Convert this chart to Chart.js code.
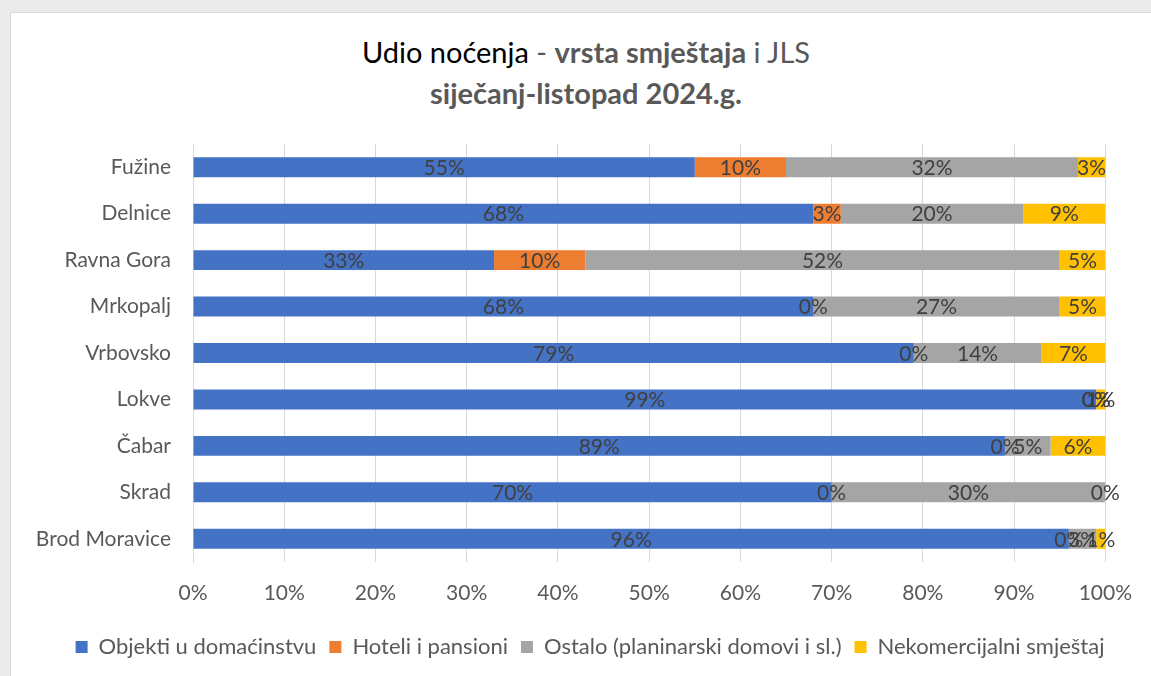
<!DOCTYPE html>
<html>
<head>
<meta charset="utf-8">
<script src="https://cdn.jsdelivr.net/npm/chart.js@4"></script>
<style>
    body { margin: 0; background: #ebebeb; font-family: Lato, "Open Sans", sans-serif; }
    #frame { position: absolute; left: 10px; top: 12px; width: 1150px; height: 680px; background: #fff; border: 1px solid #d9d9d9; }
    #title { position: absolute; left: 0; top: 31px; width: 1172px; text-align: center; color: #595959; font-size: 29px; line-height: 41px; }
    #title .dark { color: #000; }
    #wrap { position: absolute; left: 0; top: 0; width: 1151px; height: 676px; }
</style>
</head>
<body>
<div id="frame"></div>
<div id="title">
    <span class="dark">Udio noćenja</span> - <b>vrsta smještaja</b> i JLS<br>
    <b>siječanj-listopad 2024.g.</b>
</div>
<div id="wrap"><canvas id="barChart" width="1151" height="676"></canvas></div>
<script>
// kategorije (JLS)
const categories = ['Fužine', 'Delnice', 'Ravna Gora', 'Mrkopalj', 'Vrbovsko', 'Lokve', 'Čabar', 'Skrad', 'Brod Moravice'];

// udjeli u % po vrsti smještaja
const objektiDomacinstvo = [55, 68, 33, 68, 79, 99, 89, 70, 96];
const hoteliPansioni     = [10, 3, 10, 0, 0, 0, 0, 0, 0];
const ostalo             = [32, 20, 52, 27, 14, 0, 5, 30, 3];
const nekomercijalni     = [3, 9, 5, 5, 7, 1, 6, 0, 1];

const xTicks = [0, 10, 20, 30, 40, 50, 60, 70, 80, 90, 100];

// oznake vrijednosti u sredini svakog segmenta
const valueLabels = {
    id: 'valueLabels',
    afterDatasetsDraw(chart) {
        const ctx = chart.ctx;
        ctx.save();
        ctx.font = '21px Lato';
        ctx.fillStyle = '#404040';
        ctx.textAlign = 'center';
        ctx.textBaseline = 'middle';
        chart.data.datasets.forEach((ds, i) => {
            chart.getDatasetMeta(i).data.forEach((bar, j) => {
                const cx = (bar.x + bar.base) / 2;
                ctx.fillText(ds.data[j] + '%', cx, bar.y + 1);
            });
        });
        ctx.restore();
    }
};

// legenda malo udesno, kao u originalu
const shiftLegend = {
    id: 'shiftLegend',
    afterLayout(chart) {
        chart.legend.left += 37;
        chart.legend.right += 37;
    }
};

const ctx = document.getElementById('barChart').getContext('2d');
new Chart(ctx, {
    type: 'bar',
    data: {
        labels: categories,
        datasets: [
            { label: 'Objekti u domaćinstvu', data: objektiDomacinstvo, backgroundColor: '#4472C4' },
            { label: 'Hoteli i pansioni', data: hoteliPansioni, backgroundColor: '#ED7D31' },
            { label: 'Ostalo (planinarski domovi i sl.)', data: ostalo, backgroundColor: '#A5A5A5' },
            { label: 'Nekomercijalni smještaj', data: nekomercijalni, backgroundColor: '#FFC000' }
        ]
    },
    options: {
        indexAxis: 'y',
        responsive: false,
        animation: false,
        datasets: { bar: { categoryPercentage: 1, barPercentage: 0.43 } },
        layout: { padding: { top: 144, right: 45, bottom: 8, left: 0 } },
        plugins: {
            legend: {
                position: 'bottom',
                labels: {
                    font: { size: 22, family: 'Lato' },
                    color: '#595959',
                    boxWidth: 12,
                    boxHeight: 12,
                    padding: 13
                }
            },
            tooltip: { enabled: false }
        },
        scales: {
            x: {
                stacked: true,
                min: 0,
                max: 100,
                afterBuildTicks: s => { s.ticks = xTicks.map(v => ({ value: v })); },
                afterFit: s => { s.height = 61; },
                ticks: {
                    callback: v => v + '%',
                    font: { size: 21, family: 'Lato' },
                    color: '#595959',
                    padding: 19
                },
                grid: { color: '#d9d9d9', drawTicks: false },
                border: { display: false }
            },
            y: {
                stacked: true,
                afterFit: s => { s.width = 193; },
                ticks: {
                    font: { size: 21, family: 'Lato' },
                    color: '#595959',
                    padding: 22
                },
                grid: { display: false, drawTicks: false },
                border: { color: '#d9d9d9' }
            }
        }
    },
    plugins: [valueLabels, shiftLegend]
});
</script>
</body>
</html>
